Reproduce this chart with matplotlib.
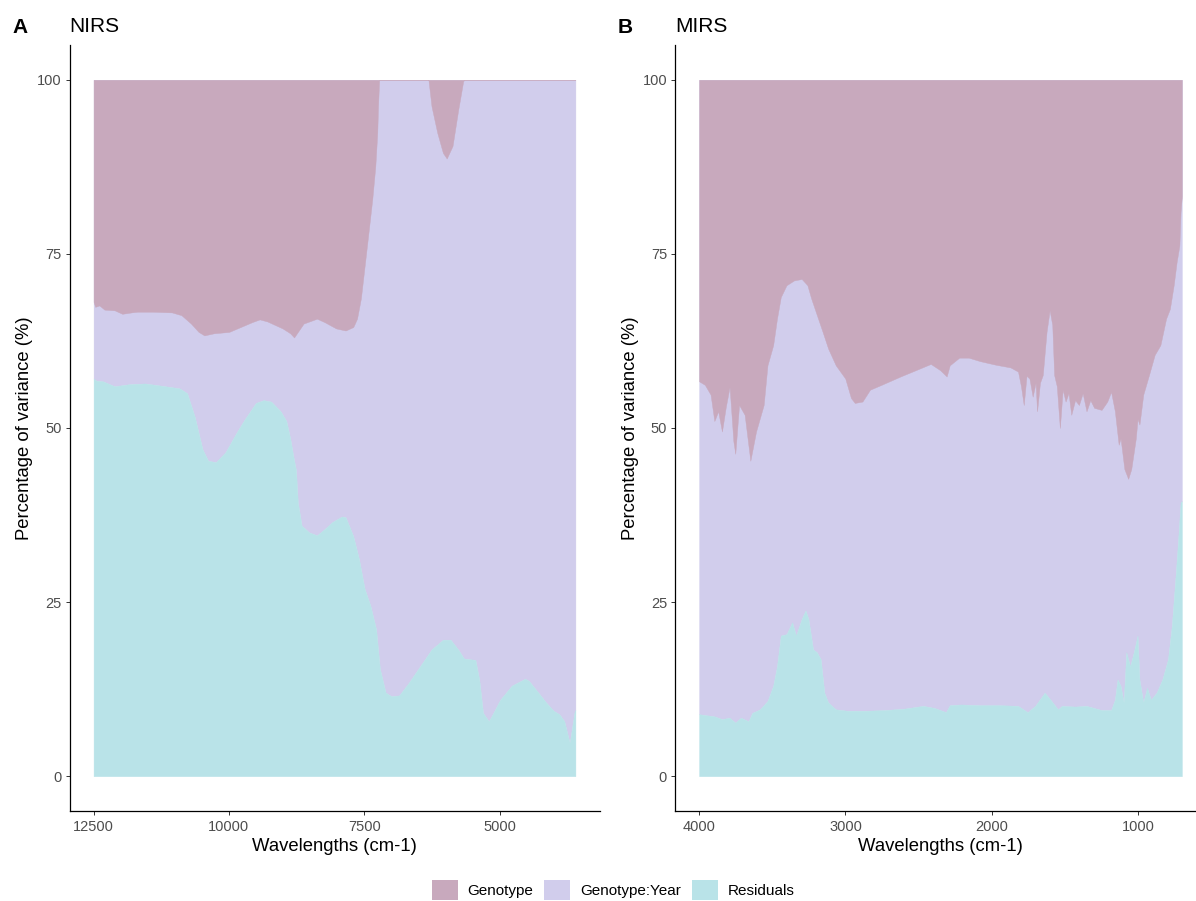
import matplotlib
matplotlib.use("Agg")
import matplotlib.pyplot as plt
from matplotlib.patches import Patch
import numpy as np

plt.rcParams['font.family'] = ['Liberation Sans', 'DejaVu Sans']

# colours of the three variance components
col_gen = '#C8A9BD'
col_gxy = '#D1CDEC'
col_res = '#B9E3E8'

# ---- NIRS: residual share (bottom band) ----
nirs_wn_res = [12500, 12450, 12324, 12112, 11830, 11548, 11266, 10913, 10772, 10631,
               10490, 10384, 10243, 10067, 9856, 9714, 9503, 9362, 9221, 9045,
               8939, 8868, 8800, 8762, 8727, 8657, 8516, 8374, 8233, 8092,
               7916, 7845, 7704, 7598, 7493, 7387, 7281, 7211, 7105, 6999,
               6858, 6681, 6470, 6258, 6047, 5906, 5765, 5659, 5447, 5377,
               5306, 5200, 4989, 4777, 4530, 4460, 4284, 4143, 4002, 3896,
               3805, 3706, 3620, 3600]
nirs_residuals = [57.1, 56.8, 56.7, 56.0, 56.3, 56.4, 56.1, 55.7, 55.0, 51.6,
                  47.0, 45.3, 45.1, 46.5, 49.4, 51.2, 53.6, 54.0, 53.8, 52.4,
                  51.0, 48.5, 45.5, 44.0, 39.3, 36.0, 35.0, 34.6, 35.5, 36.5,
                  37.3, 37.2, 34.5, 31.2, 26.9, 24.5, 21.1, 15.4, 12.0, 11.5,
                  11.6, 13.4, 15.8, 18.2, 19.6, 19.6, 18.2, 16.9, 16.7, 13.9,
                  9.1, 7.9, 11.0, 13.0, 14.0, 13.7, 12.0, 10.6, 9.4, 8.9,
                  7.9, 4.8, 9.1, 9.5]

# ---- NIRS: genotype share (top band) ----
nirs_wn_gen = [12500, 12470, 12394, 12300, 12112, 11971, 11800, 11689, 11407, 11054,
               10878, 10702, 10561, 10455, 10279, 9997, 9785, 9573, 9432, 9291,
               9009, 8868, 8797, 8727, 8621, 8515, 8374, 8233, 8021, 7845,
               7704, 7634, 7563, 7493, 7422, 7352, 7296, 7260, 7246, 7225,
               6315, 6258, 6152, 6047, 5977, 5870, 5765, 5673, 5652, 3600]
nirs_genotype = [31.9, 32.6, 32.4, 33.0, 33.1, 33.6, 33.4, 33.3, 33.3, 33.4,
                 33.8, 35.0, 36.2, 36.7, 36.4, 36.2, 35.5, 34.8, 34.4, 34.7,
                 35.7, 36.4, 37.0, 36.2, 35.0, 34.7, 34.3, 34.8, 35.7, 36.0,
                 35.5, 34.3, 31.4, 26.7, 21.9, 17.1, 12.4, 7.6, 3.8, 0.0,
                 0.0, 3.8, 7.6, 10.5, 11.3, 9.5, 4.3, 0.2, 0.0, 0.0]

# ---- MIRS: residual share ----
mirs_wn_res = [4000, 3896, 3844, 3792, 3753, 3715, 3663, 3637, 3585, 3533,
               3494, 3468, 3442, 3403, 3364, 3338, 3299, 3273, 3253, 3221,
               3195, 3169, 3144, 3118, 3066, 2988, 2858, 2728, 2598, 2469,
               2391, 2313, 2287, 2209, 2079, 1949, 1820, 1755, 1703, 1638,
               1599, 1547, 1521, 1430, 1352, 1249, 1184, 1158, 1140, 1119,
               1098, 1080, 1054, 1029, 1003, 990, 964, 938, 912, 873,
               834, 795, 769, 743, 725, 709, 700]
mirs_residuals = [8.9, 8.6, 8.2, 8.4, 7.7, 8.4, 7.9, 9.1, 9.6, 10.8,
                  13.0, 15.8, 20.2, 20.4, 22.1, 20.2, 22.6, 23.8, 22.6, 18.2,
                  17.8, 16.8, 12.0, 10.6, 9.6, 9.4, 9.4, 9.5, 9.7, 10.1,
                  9.8, 9.2, 10.2, 10.3, 10.2, 10.2, 10.1, 9.2, 10.1, 12.0,
                  11.0, 9.6, 10.1, 10.0, 10.1, 9.5, 9.5, 11.0, 13.9, 13.0,
                  10.6, 17.8, 15.8, 17.8, 20.2, 13.9, 10.6, 12.7, 11.0, 12.0,
                  13.9, 16.8, 21.6, 28.8, 34.1, 39.3, 39.5]

# ---- MIRS: genotype share ----
mirs_wn_gen = [4000, 3961, 3922, 3896, 3870, 3844, 3818, 3792, 3766, 3753,
               3727, 3689, 3650, 3611, 3559, 3533, 3494, 3468, 3442, 3403,
               3351, 3299, 3260, 3234, 3195, 3156, 3118, 3066, 3001, 2962,
               2936, 2884, 2832, 2754, 2624, 2520, 2417, 2352, 2308, 2287,
               2222, 2157, 2079, 1975, 1872, 1820, 1800, 1781, 1762, 1742,
               1720, 1700, 1690, 1670, 1651, 1625, 1604, 1586, 1573, 1555,
               1534, 1515, 1495, 1475, 1456, 1430, 1404, 1378, 1352, 1326,
               1300, 1249, 1210, 1184, 1158, 1132, 1119, 1093, 1067, 1046,
               1015, 1003, 990, 964, 925, 886, 847, 808, 782, 756,
               736, 717, 709, 700]
mirs_genotype = [43.3, 43.8, 45.2, 49.0, 47.6, 50.5, 47.0, 44.1, 51.9, 53.7,
                 46.7, 48.1, 54.7, 50.5, 46.7, 41.0, 38.1, 34.3, 31.2, 29.5,
                 28.8, 28.6, 29.5, 31.4, 33.8, 36.2, 38.6, 41.0, 42.9, 45.7,
                 46.4, 46.2, 44.5, 43.8, 42.6, 41.7, 40.8, 41.7, 42.6, 41.0,
                 39.9, 39.9, 40.4, 40.9, 41.3, 41.9, 44.0, 46.7, 42.5, 42.9,
                 45.5, 43.5, 47.6, 43.5, 42.4, 36.2, 33.1, 35.2, 42.4, 44.0,
                 50.0, 44.5, 46.2, 45.0, 48.1, 46.0, 46.7, 45.0, 47.6, 46.0,
                 47.1, 47.4, 46.2, 44.8, 47.6, 52.4, 51.5, 55.9, 57.3, 55.9,
                 51.5, 48.7, 49.5, 45.2, 42.4, 39.5, 38.1, 34.3, 32.9, 29.5,
                 26.2, 23.8, 19.0, 16.7]

W, H = 1196, 901
fig = plt.figure(figsize=(W / 100, H / 100), dpi=100)


def px_axes(left, right, top, bottom):
    return fig.add_axes([left / W, 1 - bottom / H, (right - left) / W, (bottom - top) / H])


def panel(ax, wn_res, res, wn_gen, gen, xlo, xhi, xticks, letter, title):
    wn_res = np.array(wn_res)
    res = np.array(res)
    wn_gen = np.array(wn_gen)
    gen = np.array(gen)
    ax.fill_between(wn_res, res, 100, color=col_gxy, lw=0.3, ec=col_gxy)
    ax.fill_between(wn_gen, 100 - gen, 100, color=col_gen, lw=0.3, ec=col_gen)
    ax.fill_between(wn_res, 0, res, color=col_res, lw=0.3, ec=col_res)
    span = xlo - xhi
    ax.set_xlim(xlo + 0.05 * span, xhi - 0.05 * span)
    ax.set_ylim(-5, 105)
    ax.set_xticks(xticks)
    ax.set_xticklabels([str(t) for t in xticks])
    ax.set_yticks([0, 25, 50, 75, 100])
    for s in ['top', 'right']:
        ax.spines[s].set_visible(False)
    for s in ['left', 'bottom']:
        ax.spines[s].set_linewidth(0.9)
        ax.spines[s].set_color('black')
    ax.tick_params(axis='both', length=3.2, width=0.7, color='#333333',
                   labelcolor='#4D4D4D', labelsize=10.5)
    ax.tick_params(axis='x', pad=3.5)
    ax.tick_params(axis='y', pad=2.5)
    ax.set_xlabel('Wavelengths (cm-1)', fontsize=13.3, color='black', labelpad=3)
    ax.set_ylabel('Percentage of variance (%)', fontsize=13.3, color='black')
    ax.yaxis.set_label_coords(-0.068, 0.5)
    ax.text(0.0, 1 + 13 / 766, title, transform=ax.transAxes, fontsize=15,
            ha='left', va='baseline')
    return ax


axA = px_axes(69.5, 599.5, 45, 811)
panel(axA, nirs_wn_res, nirs_residuals, nirs_wn_gen, nirs_genotype,
      12500, 3600, [12500, 10000, 7500, 5000], 'A', 'NIRS')
axB = px_axes(675, 1206, 45, 811)
panel(axB, mirs_wn_res, mirs_residuals, mirs_wn_gen, mirs_genotype,
      4000, 700, [4000, 3000, 2000, 1000], 'B', 'MIRS')

fig.text(12.5 / W, 1 - 33 / H, 'A', fontsize=15, fontweight='bold', ha='left', va='baseline')
fig.text(618 / W, 1 - 33 / H, 'B', fontsize=15, fontweight='bold', ha='left', va='baseline')

handles = [Patch(facecolor=col_gen, edgecolor='none', label='Genotype'),
           Patch(facecolor=col_gxy, edgecolor='none', label='Genotype:Year'),
           Patch(facecolor=col_res, edgecolor='none', label='Residuals')]
fig.legend(handles=handles, loc='center', bbox_to_anchor=(613 / W, 1 - 890 / H),
           ncol=3, frameon=False, fontsize=11, handlelength=1.7, handleheight=1.7,
           handletextpad=0.65, columnspacing=0.7, borderpad=0, borderaxespad=0)

fig.savefig('out.png', dpi=100)
